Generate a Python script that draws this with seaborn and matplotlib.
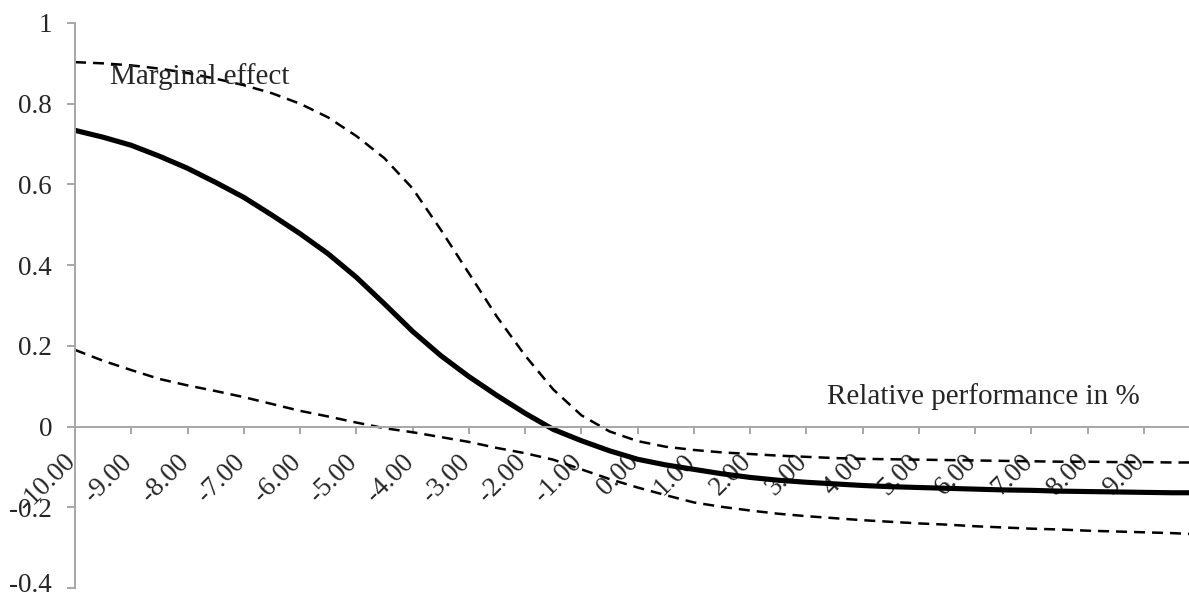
import numpy as np
import pandas as pd
import matplotlib
matplotlib.use("Agg")
import matplotlib.pyplot as plt
import matplotlib.transforms as mtransforms
import seaborn as sns

sns.set_style("white")
plt.rcParams['font.family'] = ['Liberation Serif', 'DejaVu Serif']

# ============================================================================
# DATA
# ============================================================================
rel_perf = [-10, -9.5, -9, -8.5, -8, -7.5, -7, -6.5, -6, -5.5, -5, -4.5, -4, -3.5,
            -3, -2.5, -2, -1.5, -1, -0.5, 0, 0.5, 1, 1.5, 2, 2.5, 3, 3.5, 4, 4.5,
            5, 5.5, 6, 6.5, 7, 7.5, 8, 8.5, 9, 9.5, 9.8]

marginal = [0.734, 0.717, 0.697, 0.670, 0.640, 0.605, 0.568, 0.524, 0.478, 0.428,
            0.370, 0.304, 0.236, 0.176, 0.124, 0.077, 0.033, -0.007, -0.035, -0.060,
            -0.081, -0.095, -0.106, -0.117, -0.126, -0.133, -0.138, -0.142, -0.146, -0.149,
            -0.151, -0.153, -0.155, -0.157, -0.158, -0.160, -0.161, -0.162, -0.163, -0.164,
            -0.164]

upper_ci = [0.903, 0.900, 0.895, 0.887, 0.876, 0.862, 0.846, 0.826, 0.800, 0.766,
            0.720, 0.665, 0.590, 0.488, 0.380, 0.272, 0.176, 0.092, 0.028, -0.012,
            -0.036, -0.050, -0.058, -0.064, -0.068, -0.072, -0.075, -0.078, -0.080, -0.081,
            -0.082, -0.083, -0.084, -0.085, -0.086, -0.087, -0.087, -0.088, -0.088, -0.089,
            -0.089]

lower_ci = [0.190, 0.163, 0.140, 0.118, 0.102, 0.088, 0.073, 0.056, 0.039, 0.025,
            0.010, -0.004, -0.014, -0.026, -0.038, -0.053, -0.066, -0.082, -0.106, -0.130,
            -0.151, -0.170, -0.188, -0.199, -0.208, -0.216, -0.222, -0.227, -0.232, -0.236,
            -0.240, -0.243, -0.247, -0.250, -0.253, -0.255, -0.258, -0.260, -0.262, -0.264,
            -0.266]

x_ticks = list(range(-10, 10))
x_ticklabels = [f"{v:.2f}" for v in x_ticks]
y_ticks = [-0.4, -0.2, 0, 0.2, 0.4, 0.6, 0.8, 1]
y_ticklabels = ["-0.4", "-0.2", "0", "0.2", "0.4", "0.6", "0.8", "1"]

df = pd.DataFrame({'x': rel_perf, 'marginal': marginal,
                   'upper': upper_ci, 'lower': lower_ci})

# ============================================================================
# PLOT
# ============================================================================
fig = plt.figure(figsize=(11.89, 6.01), dpi=100)
ax = fig.add_axes([75 / 1189, 13 / 601, 1 - 75 / 1189, 565 / 601])

dash = (0, (4.4, 2.8))
sns.lineplot(data=df, x='x', y='upper', ax=ax, color='black', linewidth=1.8, linestyle=dash)
sns.lineplot(data=df, x='x', y='lower', ax=ax, color='black', linewidth=1.8, linestyle=dash)
sns.lineplot(data=df, x='x', y='marginal', ax=ax, color='black', linewidth=3.7)

ax.set_xlim(-10, 9.8)
ax.set_ylim(-0.4, 1)

# axes styling (Excel look)
axis_grey = '#A6A6A6'
ax.spines['top'].set_visible(False)
ax.spines['right'].set_visible(False)
ax.spines['bottom'].set_position(('data', 0))
ax.spines['left'].set_color(axis_grey)
ax.spines['bottom'].set_color(axis_grey)
ax.spines['left'].set_linewidth(1.4)
ax.spines['bottom'].set_linewidth(1.4)

ax.set_yticks(y_ticks)
ax.set_yticklabels(y_ticklabels)
ax.set_xticks(x_ticks)
ax.set_xticklabels(x_ticklabels, rotation=45, ha='right', va='top')

ax.tick_params(axis='y', direction='out', length=5.5, width=1.4, color=axis_grey,
               pad=11, labelsize=19.5, left=True)
ax.tick_params(axis='x', direction='out', length=5, width=1.4, color=axis_grey,
               pad=11.5, labelsize=19.5, bottom=True)

shift = mtransforms.ScaledTranslation(6 / 100, 0, fig.dpi_scale_trans)
for lab in ax.get_xticklabels():
    lab.set_transform(lab.get_transform() + shift)

# keep the bottom y label inside the canvas
lift = mtransforms.ScaledTranslation(0, 5 / 100, fig.dpi_scale_trans)
bottom_lab = ax.get_yticklabels()[0]
bottom_lab.set_transform(bottom_lab.get_transform() + lift)

ax.set_xlabel('')
ax.set_ylabel('')

ax.text(-9.38, 0.849, 'Marginal effect', fontsize=21, ha='left', va='baseline')
ax.text(8.93, 0.057, 'Relative performance in %', fontsize=21, ha='right', va='baseline')

plt.savefig('out.png', dpi=100)
